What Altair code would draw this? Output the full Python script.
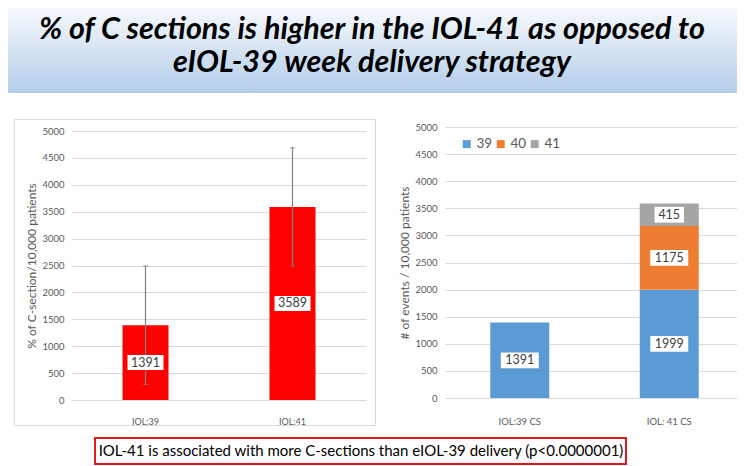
import altair as alt
import pandas as pd

# ---------------- data ----------------
title_lines = ["% of C sections is higher in the IOL-41 as opposed to",
               "eIOL-39 week delivery strategy"]
footer_text = "IOL-41 is associated with more C-sections than eIOL-39 delivery (p<0.0000001)"

left_categories = ["IOL:39", "IOL:41"]
left_values = [1391, 3589]
left_errors = [1100, 1100]
left_ytitle = "% of C-section/10,000 patients"

right_categories = ["IOL:39 CS", "IOL: 41 CS", "IOL: 41 CS", "IOL: 41 CS"]
right_weeks = ["39", "39", "40", "41"]
right_values = [1391, 1999, 1175, 415]
right_ytitle = "# of events / 10,000 patients"
right_xorder = ["IOL:39 CS", "IOL: 41 CS"]
week_order = ["39", "40", "41"]
week_colors = ["#5B9BD5", "#ED7D31", "#A5A5A5"]

y_ticks = list(range(0, 5001, 500))

# ---------------- layout / style ----------------
W, H = 729, 458
FONT = "Lato"
AX = "#595959"
GRID = "#D9D9D9"
LBL = "#404040"

one = pd.DataFrame({"k": [0]})

band = alt.Chart(one).mark_rect(
    fill=alt.Gradient(gradient="linear",
                      stops=[alt.GradientStop(color="#F6F9FD", offset=0),
                             alt.GradientStop(color="#B3CDE9", offset=1)],
                      x1=0, x2=0, y1=0, y2=1),
    strokeWidth=0,
).encode(x=alt.value(0), x2=alt.value(W), y=alt.value(0), y2=alt.value(85))

title = alt.Chart(one).mark_text(
    text=title_lines, font=FONT, fontSize=30.5, fontWeight="bold", fontStyle="italic",
    color="black", lineHeight=33, align="center", baseline="middle",
).encode(x=alt.value(364), y=alt.value(22))

left_frame = alt.Chart(one).mark_rect(
    fillOpacity=0, stroke=GRID, strokeWidth=1
).encode(x=alt.value(6.5), x2=alt.value(367.5), y=alt.value(111.5), y2=alt.value(417.5))

# ---------------- left chart ----------------
ldf = pd.DataFrame({"cat": left_categories, "val": left_values, "err": left_errors})
lx = alt.Scale(domain=left_categories, range=[64, 358], paddingInner=0, paddingOuter=0)
ly = alt.Scale(domain=[0, 5000], range=[392, 123], nice=False, zero=False)

lxaxis = alt.Axis(orient="bottom", offset=-58, title=None, domain=False, ticks=False,
                  labelFont=FONT, labelFontSize=9, labelColor=AX, labelPadding=9,
                  grid=False, labelAngle=0)
lyaxis = alt.Axis(orient="left", offset=-64, values=y_ticks, format="d", title=left_ytitle,
                  titleFont=FONT, titleFontSize=12, titleFontWeight="normal",
                  titleColor=AX, titlePadding=3, domain=False, ticks=False,
                  labelFont=FONT, labelFontSize=9.5, labelColor=AX, labelPadding=8,
                  grid=True, gridColor=GRID, gridWidth=1)

lbase = alt.Chart(ldf)
lX = alt.X("cat:N", scale=lx, axis=None, sort=left_categories)

lbars = lbase.mark_bar(size=46, color="#FF0000").encode(
    x=alt.X("cat:N", scale=lx, axis=lxaxis, sort=left_categories),
    y=alt.Y("val:Q", scale=ly, axis=lyaxis),
)
lerr = lbase.transform_calculate(
    lo="datum.val - datum.err", hi="datum.val + datum.err"
).mark_rule(color="#7F7F7F", strokeWidth=1.2).encode(
    x=lX, y=alt.Y("lo:Q", scale=ly, axis=None), y2="hi:Q"
)
lcaps = lbase.transform_calculate(
    lo="datum.val - datum.err", hi="datum.val + datum.err"
).transform_fold(["lo", "hi"], as_=["end", "ev"]).mark_tick(
    color="#7F7F7F", size=5, thickness=1.2
).encode(x=lX, y=alt.Y("ev:Q", scale=ly, axis=None))

box_calc = dict(
    lbl="'' + datum.val",
    hw="0.27*length(datum.lbl) + 0.12",
    shp="'M' + (-datum.hw) + ',-0.5H' + datum.hw + 'V0.5H' + (-datum.hw) + 'Z'",
)
lboxes = lbase.transform_calculate(mid="datum.val/2", **box_calc).mark_point(
    filled=True, fill="white", opacity=1, size=900, strokeWidth=0
).encode(x=lX, y=alt.Y("mid:Q", scale=ly, axis=None),
         shape=alt.Shape("shp:N", scale=None))
ltext = lbase.transform_calculate(mid="datum.val/2", lbl="'' + datum.val").mark_text(
    font=FONT, fontSize=12.5, color=LBL
).encode(x=lX, y=alt.Y("mid:Q", scale=ly, axis=None), text="lbl:N")

# ---------------- right chart ----------------
rdf = pd.DataFrame({"cat": right_categories, "week": right_weeks, "val": right_values})
rx = alt.Scale(domain=right_xorder, range=[437, 736], paddingInner=0, paddingOuter=0)
ry = alt.Scale(domain=[0, 5000], range=[390, 119], nice=False, zero=False)

rxaxis = alt.Axis(orient="bottom", offset=-60, title=None, domain=False, ticks=False,
                  labelFont=FONT, labelFontSize=9.5, labelColor=AX, labelPadding=10,
                  grid=False, labelAngle=0)
ryaxis = alt.Axis(orient="left", offset=-437, values=y_ticks, format="d", title=right_ytitle,
                  titleFont=FONT, titleFontSize=12, titleFontWeight="normal",
                  titleColor=AX, titlePadding=3, domain=False, ticks=False,
                  labelFont=FONT, labelFontSize=9.5, labelColor=AX, labelPadding=8,
                  grid=True, gridColor=GRID, gridWidth=1)

rbase = alt.Chart(rdf).transform_stack(
    stack="val", groupby=["cat"], as_=["y0", "y1"],
    sort=[alt.SortField("week", order="ascending")]
).transform_calculate(mid="(datum.y0 + datum.y1)/2")
rX = alt.X("cat:N", scale=rx, axis=None, sort=right_xorder)

rbars = rbase.mark_bar(size=59).encode(
    x=alt.X("cat:N", scale=rx, axis=rxaxis, sort=right_xorder),
    y=alt.Y("y0:Q", scale=ry, axis=ryaxis),
    y2="y1:Q",
    color=alt.Color("week:N", scale=alt.Scale(domain=week_order, range=week_colors),
                    legend=alt.Legend(title=None, orient="none", legendX=452, legendY=129,
                                      direction="horizontal", symbolType="square",
                                      symbolSize=64, symbolStrokeWidth=0,
                                      labelFont=FONT, labelFontSize=13.5, labelColor=AX,
                                      columnPadding=1, labelOffset=3)),
)
rboxes = rbase.transform_calculate(**box_calc).mark_point(
    filled=True, fill="white", opacity=1, size=1000, strokeWidth=0
).encode(x=rX, y=alt.Y("mid:Q", scale=ry, axis=None),
         shape=alt.Shape("shp:N", scale=None))
rtext = rbase.transform_calculate(lbl="'' + datum.val").mark_text(
    font=FONT, fontSize=12.5, color=LBL
).encode(x=rX, y=alt.Y("mid:Q", scale=ry, axis=None), text="lbl:N")

# ---------------- footer ----------------
fbox = alt.Chart(one).mark_rect(fill="white", stroke="#E31A1C", strokeWidth=2).encode(
    x=alt.value(87), x2=alt.value(618), y=alt.value(430), y2=alt.value(456))
ftext = alt.Chart(one).mark_text(
    text=footer_text, font=FONT, fontSize=15, color="black", align="center", baseline="middle"
).encode(x=alt.value(353), y=alt.value(443))

chart = alt.layer(
    band, title, left_frame,
    lbars, lerr, lcaps, lboxes, ltext,
    rbars, rboxes, rtext,
    fbox, ftext,
).resolve_scale(
    x="independent", y="independent", color="independent"
).resolve_axis(x="independent", y="independent").properties(
    width=W, height=H, autosize=alt.AutoSizeParams(type="none"), padding=0
).configure_view(stroke=None)

chart.save("out.html", embed_options={"renderer": "svg", "actions": False})
